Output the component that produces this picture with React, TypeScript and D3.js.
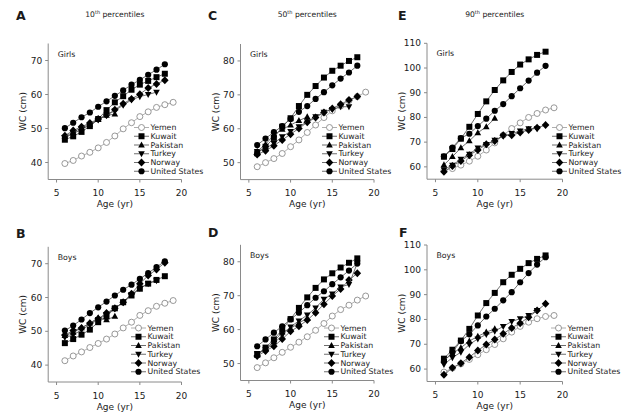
import React from "react";
import * as d3 from "d3";

// ---------- data ----------
const ages = [6, 7, 8, 9, 10, 11, 12, 13, 14, 15, 16, 17, 18];
const agesYemen = [6, 7, 8, 9, 10, 11, 12, 13, 14, 15, 16, 17, 18, 19];
const agesPakistan = [6, 7, 8, 9, 10, 11, 12];
const agesTurkey = [6, 7, 8, 9, 10, 11, 12, 13, 14, 15, 16, 17];
const agesTurkeyD = [6, 7, 8, 9, 10, 11, 12, 13, 14, 15, 16, 17, 18];
const xTicks = [5, 10, 15, 20];
const seriesNames = ["Yemen", "Kuwait", "Pakistan", "Turkey", "Norway", "United States"];

// A: girls, 10th percentiles
const g10Yemen = [39.7, 40.6, 41.9, 43, 44.3, 45.9, 47.8, 49.9, 51.7, 53.5, 54.9, 56.2, 57, 57.7];
const g10Kuwait = [46.7, 47.7, 49, 50.7, 52.8, 55.4, 57.7, 59.5, 61.4, 62.9, 64, 65.1, 66.1];
const g10Pakistan = [47.6, 48.9, 50.2, 51.2, 52.7, 53.9, 54.2];
const g10Turkey = [47.3, 48.5, 49.7, 51, 52.5, 53.9, 55.2, 56.9, 58.4, 59.4, 60, 60.7];
const g10Norway = [47.9, 49.4, 50.5, 51.6, 52.8, 54, 55.5, 57.3, 58.7, 60.1, 61.9, 63.1, 64.2];
const g10US = [50.1, 51.7, 53.3, 54.7, 56.4, 58, 59.6, 61.2, 62.9, 64.3, 65.8, 67.3, 68.9];

// B: boys, 10th percentiles
const b10Yemen = [41.3, 42.7, 43.9, 45.2, 46.4, 47.7, 49.2, 51, 52.7, 54.7, 56.1, 57.4, 58.3, 59.1];
const b10Kuwait = [46.5, 47.7, 49, 50.5, 52.7, 54.4, 56.8, 58.6, 60.6, 62.6, 64.1, 65.2, 66.3];
const b10Pakistan = [48.7, 49.7, 51, 52.4, 54, 53.4, 54.4];
const b10Turkey = [48.2, 48.9, 50.4, 52, 53.5, 55, 56.8, 58.6, 60.9, 62.8, 64.1, 65];
const b10Norway = [48.9, 50.2, 51, 52.4, 53.7, 55.4, 56.8, 58.6, 61.1, 64.1, 66.5, 68.3, 70.3];
const b10US = [50.2, 51.7, 53.5, 55.4, 57.1, 58.8, 60.6, 62.3, 63.8, 65.5, 67.2, 69, 70.7];

// C: girls, 50th percentiles
const g50Yemen = [48.8, 50, 51.2, 52.7, 54.7, 56.7, 58.9, 61.1, 63.3, 65.3, 66.7, 68.3, 69.5, 70.8];
const g50Kuwait = [52.8, 54.7, 57.3, 60.6, 63.1, 66.7, 70, 72.6, 75.1, 77.1, 78.6, 80, 81.1];
const g50Pakistan = [53.3, 55.4, 58.2, 59.8, 61.1, 62.4, 63.5];
const g50Turkey = [53.3, 54.2, 55.7, 57.7, 59.2, 60.6, 62.1, 63.6, 64.9, 65.7, 66.5, 66.5];
const g50Norway = [52.4, 53.5, 55, 56.7, 58.4, 60.1, 61.9, 63.3, 64.8, 66, 67.2, 68.5, 69.5];
const g50US = [55.2, 57.1, 59, 60.8, 62.9, 65, 66.7, 68.8, 70.8, 72.8, 74.8, 76.6, 78.6];

// D: boys, 50th percentiles
const b50Yemen = [48.8, 50.2, 51.7, 53.3, 54.8, 56.3, 57.9, 59.8, 61.8, 64, 65.9, 67.2, 68.7, 69.9];
const b50Kuwait = [52.7, 54.7, 57.1, 60, 63.1, 66.4, 69.5, 72.3, 74.8, 76.6, 78.3, 79.7, 81];
const b50Pakistan = [52.5, 54.4, 56.4, 59.3, 60.3, 62, 63.3];
const b50Turkey = [53, 54.1, 55.9, 58.4, 60.8, 62.6, 64.3, 66.4, 69, 70.5, 72.6, 73.3, 79.6];
const b50Norway = [52.2, 53.7, 55.1, 57.2, 59.5, 61, 62.8, 65, 67.5, 69.9, 72, 74.6, 76.6];
const b50US = [55.1, 57.1, 59.1, 61, 63, 65, 67.2, 69.4, 71.3, 73.4, 75.4, 77.4, 79.5];

// E: girls, 90th percentiles
const g90Yemen = [58.6, 59.3, 60.7, 62.3, 64.3, 66.8, 69.7, 72.8, 75.5, 77.8, 80, 81.6, 83, 83.9];
const g90Kuwait = [64.1, 67.2, 71.4, 76.2, 81.4, 86.5, 91.1, 95, 98.4, 101.4, 103.5, 105.3, 106.6];
const g90Pakistan = [60.8, 64.1, 67.7, 70.5, 73.8, 76.2, 79.6];
const g90Turkey = [58.9, 60.7, 63.1, 65.1, 67.7, 69.1, 70.8, 72.4, 73.5, 74.5, 75.5, 75.5];
const g90Norway = [58, 60.3, 62.4, 64.7, 66.8, 69.1, 70.5, 72.8, 72.8, 73.9, 74.9, 75.8, 76.9];
const g90US = [64.3, 67.8, 71.6, 73.4, 76.5, 79.5, 82.7, 85.4, 88.6, 91.8, 94.9, 98.1, 100.9];

// F: boys, 90th percentiles
const b90Yemen = [58.8, 60.4, 62.1, 63.9, 65.8, 67.8, 69.9, 72.2, 74.9, 77.2, 78.9, 80.3, 81.2, 81.6];
const b90Kuwait = [64.2, 67.8, 71.5, 76.2, 81.6, 86.6, 90.7, 95, 98, 100.4, 102.7, 104.4, 105.8];
const b90Pakistan = [63.5, 66.2, 68.6, 71.3, 73.2, 74.9, 76.2];
const b90Turkey = [61.9, 64.6, 66.8, 69.9, 72.2, 74, 75.3, 77.2, 79.2, 80.3, 81.6, 83.6];
const b90Norway = [57.7, 60.5, 62.4, 64.8, 67.5, 69.9, 71.9, 74.2, 76.6, 78.5, 80.9, 83.6, 86.3];
const b90US = [63.2, 66.8, 71.3, 74, 77.6, 81.2, 84.3, 87.7, 91, 95, 98.7, 102.1, 105.1];

const yTicks10 = [40, 50, 60, 70];
const yTicks50 = [50, 60, 70, 80];
const yTicks90 = [60, 70, 80, 90, 100, 110];

// ---------- drawing ----------
const FONT = "'DejaVu Sans', Verdana, sans-serif";
const LINE = "#4a4a4a";
const AXIS = "#8a8a8a";

type Series = { name: string; x: number[]; y: number[] };

const markerPath = (name: string): string => {
  switch (name) {
    case "Kuwait":
      return "M-3,-3H3V3H-3Z";
    case "Pakistan":
      return "M0,-3.6L3.3,2.4H-3.3Z";
    case "Turkey":
      return "M0,3.6L3.3,-2.4H-3.3Z";
    case "Norway":
      return "M0,-4L3.8,0L0,4L-3.8,0Z";
    case "United States":
      return d3.symbol(d3.symbolCircle, 30)() as string;
    default:
      return "";
  }
};

function Marker({ name, x, y }: { name: string; x: number; y: number }) {
  if (name === "Yemen") {
    return <circle cx={x} cy={y} r={3} fill="#fff" stroke="#8c8c8c" strokeWidth={0.9} />;
  }
  return <path d={markerPath(name)} transform={`translate(${x},${y})`} fill="#000" />;
}

type PanelProps = {
  letter: string;
  letterX: number;
  letterY: number;
  title?: string;
  titleY: number;
  sex: string;
  xr: [number, number];
  yr: [number, number];
  yd: [number, number];
  yTicks: number[];
  series: Series[];
  legX: number;
  legY: number;
};

function Panel(p: PanelProps) {
  const x = d3.scaleLinear().domain([4, 20]).range(p.xr);
  const y = d3.scaleLinear().domain(p.yd).range(p.yr);
  const line = d3
    .line<[number, number]>()
    .x((d) => x(d[0]))
    .y((d) => y(d[1]));
  const cx = (p.xr[0] + p.xr[1]) / 2;
  const cy = (p.yr[0] + p.yr[1]) / 2;
  const order = ["Yemen", "Norway", "Turkey", "Pakistan", "Kuwait", "United States"];
  const sorted = [...p.series].sort((a, b) => order.indexOf(a.name) - order.indexOf(b.name));
  return (
    <g fontFamily={FONT} fill="#1a1a1a">
      <text x={p.letterX} y={p.letterY} fontSize={12.5} fontWeight="bold">
        {p.letter}
      </text>
      {p.title && (
        <text x={cx} y={p.titleY} fontSize={7.6} textAnchor="middle">
          {p.title}
          <tspan fontSize={5} dy={-3}>th</tspan>
          <tspan dy={3}> percentiles</tspan>
        </text>
      )}
      {/* axes */}
      <line x1={p.xr[0]} x2={p.xr[1]} y1={p.yr[0]} y2={p.yr[0]} stroke={AXIS} strokeWidth={1} />
      <line x1={p.xr[0]} x2={p.xr[0]} y1={p.yr[0]} y2={p.yr[1]} stroke={AXIS} strokeWidth={1} />
      {xTicks.map((t) => (
        <g key={"x" + t}>
          <line x1={x(t)} x2={x(t)} y1={p.yr[0]} y2={p.yr[0] + 3} stroke={AXIS} />
          <text x={x(t)} y={p.yr[0] + 16.5} fontSize={9} textAnchor="middle">
            {t}
          </text>
        </g>
      ))}
      {p.yTicks.map((t) => (
        <g key={"y" + t}>
          <line x1={p.xr[0] - 3} x2={p.xr[0]} y1={y(t)} y2={y(t)} stroke={AXIS} />
          <text x={p.xr[0] - 6} y={y(t)} fontSize={9} textAnchor="end" dominantBaseline="central">
            {t}
          </text>
        </g>
      ))}
      <text x={cx} y={p.yr[0] + 27.5} fontSize={9} textAnchor="middle">
        Age (yr)
      </text>
      <text
        transform={`translate(${p.xr[0] - 25},${cy}) rotate(-90)`}
        fontSize={9}
        textAnchor="middle"
        dominantBaseline="central"
      >
        WC (cm)
      </text>
      <text x={p.xr[0] + 9.5} y={p.yr[1] + 13} fontSize={7.8}>
        {p.sex}
      </text>
      {/* series */}
      {sorted.map((s) => (
        <g key={s.name}>
          <path
            d={line(s.x.map((a, i) => [a, s.y[i]] as [number, number])) as string}
            fill="none"
            stroke={s.name === "Yemen" ? "#9a9a9a" : LINE}
            strokeWidth={0.8}
          />
          {s.x.map((a, i) => (
            <Marker key={i} name={s.name} x={x(a)} y={y(s.y[i])} />
          ))}
        </g>
      ))}
      {/* legend */}
      {seriesNames.map((n, i) => {
        const ly = p.legY + i * 8.75;
        return (
          <g key={"l" + n}>
            <line
              x1={p.legX}
              x2={p.legX + 15}
              y1={ly}
              y2={ly}
              stroke={n === "Yemen" ? "#9a9a9a" : LINE}
              strokeWidth={0.8}
            />
            <Marker name={n} x={p.legX + 7.5} y={ly} />
            <text x={p.legX + 16.5} y={ly} fontSize={7.8} dominantBaseline="central">
              {n}
            </text>
          </g>
        );
      })}
    </g>
  );
}

const mk = (yem: number[], kuw: number[], pak: number[], tur: number[], nor: number[], us: number[], turAges = agesTurkey): Series[] => [
  { name: "Yemen", x: agesYemen, y: yem },
  { name: "Kuwait", x: ages, y: kuw },
  { name: "Pakistan", x: agesPakistan, y: pak },
  { name: "Turkey", x: turAges, y: tur },
  { name: "Norway", x: ages, y: nor },
  { name: "United States", x: ages, y: us },
];

export default function App() {
  return (
    <svg
      width={630}
      height={417}
      style={{ position: "absolute", left: 0, top: 0, background: "#fff" }}
    >
      <rect width={630} height={417} fill="#fff" />
      <Panel letter="A" letterX={16} letterY={20} title="10" titleY={17} sex="Girls"
        xr={[48.2, 181.5]} yr={[179.5, 43.5]} yd={[35, 75]} yTicks={yTicks10}
        series={mk(g10Yemen, g10Kuwait, g10Pakistan, g10Turkey, g10Norway, g10US)}
        legX={134} legY={127.5} />
      <Panel letter="B" letterX={16} letterY={238} titleY={0} sex="Boys"
        xr={[48.2, 181.5]} yr={[382, 246.8]} yd={[35, 75]} yTicks={yTicks10}
        series={mk(b10Yemen, b10Kuwait, b10Pakistan, b10Turkey, b10Norway, b10US)}
        legX={131} legY={328} />
      <Panel letter="C" letterX={208} letterY={20} title="50" titleY={17} sex="Girls"
        xr={[240.5, 374]} yr={[179.6, 44]} yd={[45, 85]} yTicks={yTicks50}
        series={mk(g50Yemen, g50Kuwait, g50Pakistan, g50Turkey, g50Norway, g50US)}
        legX={322} legY={127.5} />
      <Panel letter="D" letterX={208} letterY={237} titleY={0} sex="Boys"
        xr={[240.5, 374]} yr={[380.5, 244.8]} yd={[45, 85]} yTicks={yTicks50}
        series={mk(b50Yemen, b50Kuwait, b50Pakistan, b50Turkey, b50Norway, b50US, agesTurkeyD)}
        legX={324} legY={328} />
      <Panel letter="E" letterX={398} letterY={20} title="90" titleY={17} sex="Girls"
        xr={[427, 562.5]} yr={[179.2, 43.3]} yd={[55, 110]} yTicks={yTicks90}
        series={mk(g90Yemen, g90Kuwait, g90Pakistan, g90Turkey, g90Norway, g90US)}
        legX={552} legY={127.5} />
      <Panel letter="F" letterX={399} letterY={237} titleY={0} sex="Boys"
        xr={[427, 562.5]} yr={[381.5, 245]} yd={[55, 110]} yTicks={yTicks90}
        series={mk(b90Yemen, b90Kuwait, b90Pakistan, b90Turkey, b90Norway, b90US)}
        legX={551} legY={328} />
    </svg>
  );
}
